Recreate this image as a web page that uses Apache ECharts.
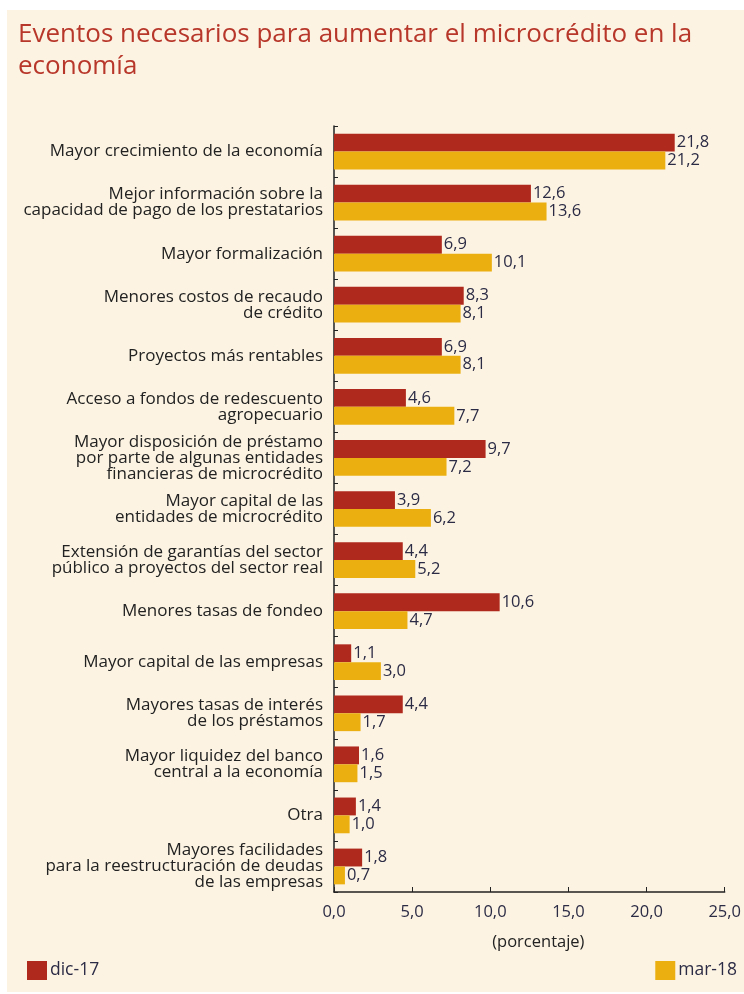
<!DOCTYPE html>
<html lang="es">
  <head>
    <meta charset="UTF-8" />
    <title>Eventos necesarios para aumentar el microcrédito</title>
    <style>
      * {
        margin: 0;
        padding: 0;
      }
      body {
        background: #fff;
        width: 744px;
        height: 994px;
        overflow: hidden;
      }
      /* marco crema del gráfico */
      #chart {
        position: absolute;
        left: 7px;
        top: 10px;
        width: 737px;
        height: 982px;
        background: #fcf3e2;
      }
    </style>
    <script src="https://cdn.jsdelivr.net/npm/echarts@6/dist/echarts.min.js"></script>
  </head>
  <body>
    <div id="chart"></div>
    <script>
      // datos
      const categorias = [
        "Mayor crecimiento de la economía",
        "Mejor información sobre la\ncapacidad de pago de los prestatarios",
        "Mayor formalización",
        "Menores costos de recaudo\nde crédito",
        "Proyectos más rentables",
        "Acceso a fondos de redescuento\nagropecuario",
        "Mayor disposición de préstamo\npor parte de algunas entidades\nfinancieras de microcrédito",
        "Mayor capital de las\nentidades de microcrédito",
        "Extensión de garantías del sector\npúblico a proyectos del sector real",
        "Menores tasas de fondeo",
        "Mayor capital de las empresas",
        "Mayores tasas de interés\nde los préstamos",
        "Mayor liquidez del banco\ncentral a la economía",
        "Otra",
        "Mayores facilidades\npara la reestructuración de deudas\nde las empresas",
      ];
      const dic17 = [21.8, 12.6, 6.9, 8.3, 6.9, 4.6, 9.7, 3.9, 4.4, 10.6, 1.1, 4.4, 1.6, 1.4, 1.8];
      const mar18 = [21.2, 13.6, 10.1, 8.1, 8.1, 7.7, 7.2, 6.2, 5.2, 4.7, 3.0, 1.7, 1.5, 1.0, 0.7];
      const xTicks = [0, 5, 10, 15, 20, 25];

      const fuente = "'Open Sans', sans-serif";
      const coma = (v) => v.toFixed(1).replace(".", ",");

      const chart = echarts.init(document.getElementById("chart"));

      const etiqueta = {
        show: true,
        position: "right",
        distance: 2,
        color: "#2b2b45",
        fontFamily: fuente,
        fontSize: 16.5,
        formatter: (p) => coma(p.value),
      };

      chart.setOption({
        backgroundColor: "#fcf3e2",
        animation: false,
        title: {
          text: "Eventos necesarios para aumentar el microcrédito en la\neconomía",
          left: 6,
          top: 4,
          textStyle: {
            color: "#b8372b",
            fontFamily: fuente,
            fontWeight: "normal",
            fontSize: 26,
            lineHeight: 32,
          },
        },
        legend: [
          {
            data: ["dic-17"],
            left: 15,
            bottom: 7,
            itemWidth: 20,
            itemHeight: 19,
            icon: "rect",
            textStyle: { fontFamily: fuente, fontSize: 17.5, color: "#2b2b45", padding: [0, 0, 0, -2] },
          },
          {
            data: ["mar-18"],
            right: 2,
            bottom: 7,
            itemWidth: 20,
            itemHeight: 19,
            icon: "rect",
            textStyle: { fontFamily: fuente, fontSize: 17.5, color: "#2b2b45", padding: [0, 0, 0, -2] },
          },
        ],
        grid: {
          left: 327,
          right: 19,
          top: 116,
          bottom: 100,
        },
        xAxis: {
          type: "value",
          min: xTicks[0],
          max: xTicks[xTicks.length - 1],
          interval: 5,
          name: "(porcentaje)",
          nameLocation: "middle",
          nameGap: 42,
          nameTextStyle: { fontFamily: fuente, fontSize: 16.5, color: "#222", padding: [0, 0, 0, 18] },
          splitLine: { show: false },
          axisLine: { show: true, lineStyle: { color: "#222", width: 1.5 } },
          axisTick: { show: true, inside: true, length: 5, lineStyle: { color: "#222" } },
          axisLabel: {
            margin: 12,
            fontFamily: fuente,
            fontSize: 16.5,
            color: "#2b2b45",
            formatter: (v) => coma(v),
          },
        },
        yAxis: {
          type: "category",
          inverse: true,
          data: categorias,
          axisLine: { show: true, lineStyle: { color: "#222", width: 1.5 } },
          axisTick: { show: true, inside: true, length: 4, lineStyle: { color: "#222" } },
          axisLabel: {
            margin: 11,
            fontFamily: fuente,
            fontSize: 17,
            lineHeight: 16,
            color: "#222",
            align: "right",
          },
        },
        series: [
          {
            name: "dic-17",
            type: "bar",
            data: dic17,
            barGap: "0%",
            barCategoryGap: "30%",
            itemStyle: { color: "#b0291d" },
            label: etiqueta,
          },
          {
            name: "mar-18",
            type: "bar",
            data: mar18,
            itemStyle: { color: "#ebb010" },
            label: etiqueta,
          },
        ],
      });
    </script>
  </body>
</html>
